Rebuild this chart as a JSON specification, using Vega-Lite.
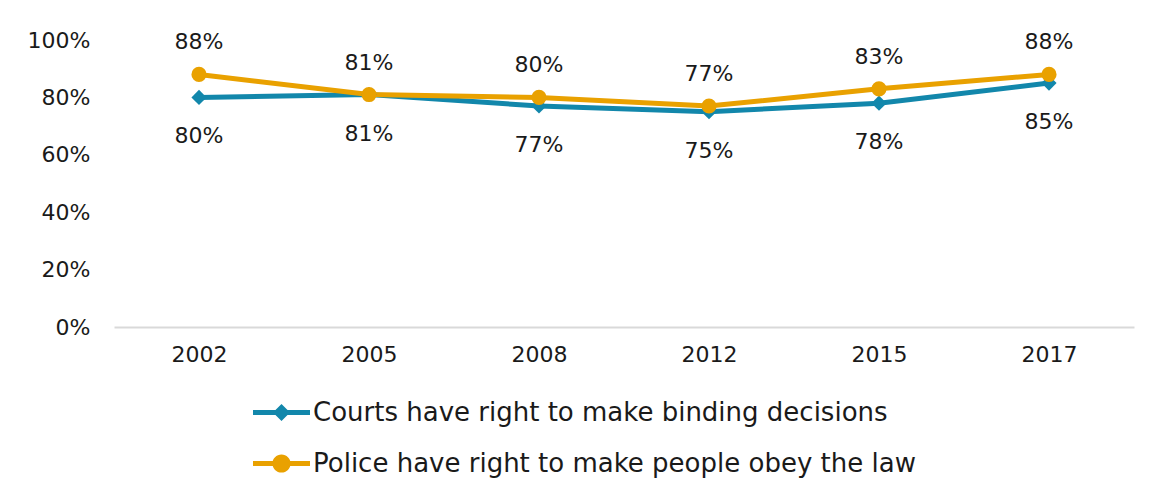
{
  "$schema": "https://vega.github.io/schema/vega-lite/v6.json",
  "width": 1020,
  "height": 287,
  "autosize": {"type": "none"},
  "padding": {"left": 114, "top": 40, "right": 19, "bottom": 164},
  "background": "white",
  "config": {
    "view": {"stroke": null},
    "font": "DejaVu Sans",
    "axis": {"labelFont": "DejaVu Sans", "labelColor": "#1a1a1a", "labelFontSize": 22}
  },
  "data": {
    "values": [
      {"year": "2002", "series": "Courts have right to make binding decisions", "value": 0.80},
      {"year": "2005", "series": "Courts have right to make binding decisions", "value": 0.81},
      {"year": "2008", "series": "Courts have right to make binding decisions", "value": 0.77},
      {"year": "2012", "series": "Courts have right to make binding decisions", "value": 0.75},
      {"year": "2015", "series": "Courts have right to make binding decisions", "value": 0.78},
      {"year": "2017", "series": "Courts have right to make binding decisions", "value": 0.85},
      {"year": "2002", "series": "Police have right to make people obey the law", "value": 0.88},
      {"year": "2005", "series": "Police have right to make people obey the law", "value": 0.81},
      {"year": "2008", "series": "Police have right to make people obey the law", "value": 0.80},
      {"year": "2012", "series": "Police have right to make people obey the law", "value": 0.77},
      {"year": "2015", "series": "Police have right to make people obey the law", "value": 0.83},
      {"year": "2017", "series": "Police have right to make people obey the law", "value": 0.88}
    ]
  },
  "encoding": {
    "x": {
      "field": "year", "type": "ordinal", "title": null,
      "scale": {"type": "point", "padding": 0.5},
      "axis": {"labelAngle": 0, "ticks": false, "domain": true, "domainColor": "#d9d9d9", "domainWidth": 2, "labelPadding": 17, "grid": false}
    },
    "y": {
      "field": "value", "type": "quantitative", "title": null,
      "scale": {"domain": [0, 1]},
      "axis": {"format": ".0%", "values": [0, 0.2, 0.4, 0.6, 0.8, 1], "grid": false, "domain": false, "ticks": false, "labelPadding": 24}
    },
    "color": {
      "field": "series", "type": "nominal",
      "scale": {"range": ["#1287ab", "#e9a100"]},
      "legend": {
        "title": null,
        "orient": "none",
        "legendX": 139,
        "legendY": 344,
        "direction": "vertical",
        "labelFont": "DejaVu Sans",
        "labelFontSize": 26,
        "labelColor": "#1a1a1a",
        "labelOffset": 3,
        "labelLimit": 800,
        "symbolSize": 3249,
        "symbolStrokeWidth": 0,
        "symbolOpacity": 1,
        "rowPadding": 9,
        "encode": {
          "symbols": {
            "update": {
              "shape": {"signal": "datum.value === 'Courts have right to make binding decisions' ? 'M-1,-0.088L1,-0.088L1,0.088L-1,0.088Z M-0.3,0L0,-0.3L0.3,0L0,0.3Z' : 'M-1,-0.088L1,-0.088L1,0.088L-1,0.088Z M-0.32,0A0.32,0.32 0 1,1 0.32,0A0.32,0.32 0 1,1 -0.32,0Z'"},
              "fill": {"signal": "datum.value === 'Courts have right to make binding decisions' ? '#1287ab' : '#e9a100'"},
              "strokeWidth": {"value": 0}
            }
          }
        }
      }
    }
  },
  "layer": [
    {
      "mark": {"type": "line", "strokeWidth": 5}
    },
    {
      "mark": {"type": "point", "filled": true, "opacity": 1, "size": 230},
      "encoding": {
        "shape": {"field": "series", "type": "nominal", "scale": {"range": ["diamond", "circle"]}, "legend": null}
      }
    },
    {
      "transform": [{"filter": "datum.series === 'Police have right to make people obey the law'"}],
      "mark": {"type": "text", "dy": -32, "fontSize": 22, "color": "#1a1a1a", "font": "DejaVu Sans"},
      "encoding": {"color": {"value": "#1a1a1a"}, "text": {"field": "value", "type": "quantitative", "format": ".0%"}}
    },
    {
      "transform": [{"filter": "datum.series === 'Courts have right to make binding decisions'"}],
      "mark": {"type": "text", "dy": 39, "fontSize": 22, "color": "#1a1a1a", "font": "DejaVu Sans"},
      "encoding": {"color": {"value": "#1a1a1a"}, "text": {"field": "value", "type": "quantitative", "format": ".0%"}}
    }
  ]
}
